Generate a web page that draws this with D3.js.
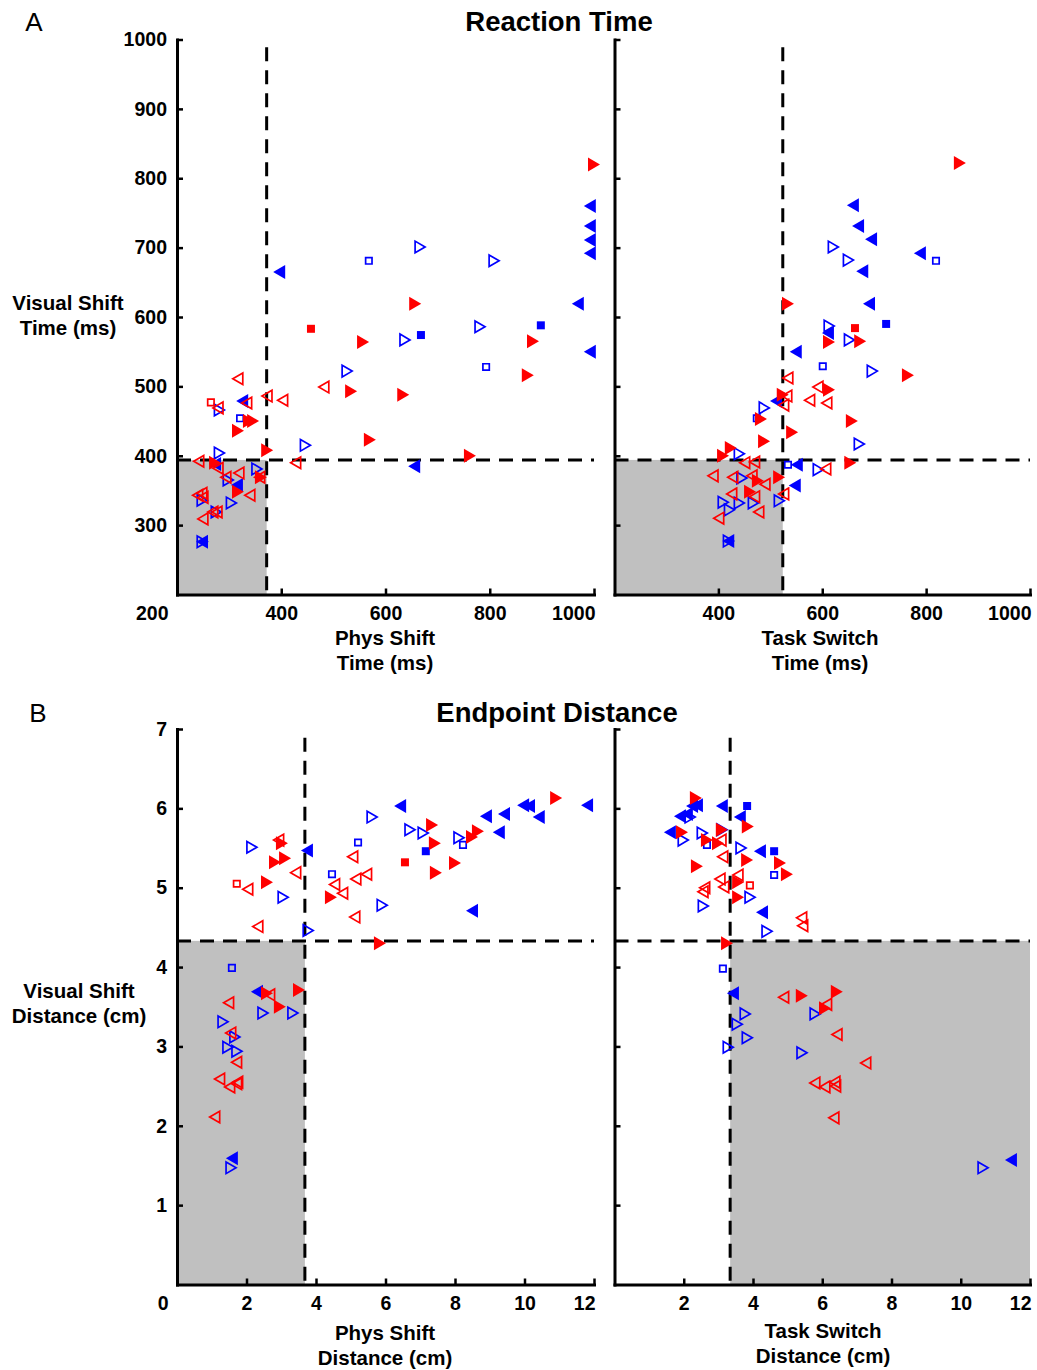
<!DOCTYPE html>
<html><head><meta charset="utf-8">
<script src="https://cdn.jsdelivr.net/npm/d3@7"></script>
<style>
body{margin:0;background:#fff}
text{font-family:"Liberation Sans",Arial,Helvetica,sans-serif}
</style>
</head><body>
<svg id="c" width="1037" height="1370"></svg>
<script>
// ---------- tick values ----------
const rtXTicksLeft = [200, 400, 600, 800, 1000];
const rtXTicksRight = [400, 600, 800, 1000];
const rtYTicks = [300, 400, 500, 600, 700, 800, 900, 1000];
const distXTicksLeft = [0, 2, 4, 6, 8, 10, 12];
const distXTicksRight = [2, 4, 6, 8, 10, 12];
const distYTicks = [1, 2, 3, 4, 5, 6, 7];

// ---------- thresholds ----------
const rtVisualThreshold = 394;
const rtPhysThreshold = 372;
const rtTaskThreshold = 524;
const distVisualThreshold = 4.33;
const distPhysThreshold = 3.68;
const distTaskThreshold = 3.34;

// ---------- Reaction time: Phys Shift (x) vs Visual Shift (y) ----------
const rtPhysRedTri = [[1000,820],[657,619],[557,564],[883,565],[534,493],[634,488],[873,516],[570,423],[762,400],[373,408],[338,450],[346,450],[317,436],[273,390],[361,369],[317,348]];
const rtPhysRedTriOpen = [[317,511],[334,476],[373,486],[403,480],[279,469],[482,499],[428,390],[242,392],[279,382],[319,375],[294,369],[340,343],[359,369],[240,343],[248,346],[250,340],[269,319],[277,319],[250,309]];
const rtPhysRedSq = [[457,583]];
const rtPhysRedSqOpen = [[265,477]];
const rtPhysBlueTri = [[992,760],[992,731],[992,711],[992,692],[396,665],[969,619],[992,550],[325,479],[273,388],[315,358],[655,385],[248,276]];
const rtPhysBlueTriOpen = [[666,701],[808,681],[781,586],[637,567],[526,522],[446,415],[281,466],[281,404],[353,381],[298,365],[248,336],[304,332],[275,319],[248,276]];
const rtPhysBlueSq = [[668,574],[898,588]];
const rtPhysBlueSqOpen = [[568,681],[793,528],[321,454]];

// ---------- Reaction time: Task Switch (x) vs Visual Shift (y) ----------
const rtTaskRedTri = [[865,822],[534,619],[613,564],[673,565],[765,516],[613,495],[524,488],[482,453],[657,450],[542,434],[488,421],[424,411],[409,400],[476,364],[517,369],[461,348],[654,390]];
const rtTaskRedTriOpen = [[534,512],[592,499],[532,486],[576,480],[609,476],[526,473],[451,390],[470,391],[607,381],[390,371],[428,369],[465,371],[490,359],[470,341],[426,345],[526,345],[478,319],[401,310]];
const rtTaskRedSq = [[663,584]];
const rtTaskRedSqOpen = [];
const rtTaskBlueTri = [[659,761],[669,731],[694,712],[788,692],[677,666],[690,619],[611,577],[549,550],[511,479],[551,387],[547,357],[419,277]];
const rtTaskBlueTriOpen = [[621,701],[650,682],[613,587],[652,567],[696,522],[488,469],[671,417],[440,403],[592,380],[445,368],[409,333],[440,332],[467,332],[517,335],[421,322],[419,277]];
const rtTaskBlueSq = [[723,590]];
const rtTaskBlueSqOpen = [[819,681],[601,529],[474,454],[534,387]];

// ---------- Endpoint distance: Phys Shift (x) vs Visual Shift (y) ----------
const distPhysRedTri = [[10.91,6.13],[7.34,5.79],[8.66,5.71],[8.49,5.64],[7.42,5.56],[8.00,5.31],[7.45,5.19],[4.43,4.88],[5.84,4.30],[3.02,5.56],[2.82,5.32],[3.11,5.37],[2.59,5.07],[2.59,3.67],[3.51,3.71],[2.96,3.50]];
const distPhysRedTriOpen = [[5.06,5.39],[5.46,5.17],[5.15,5.11],[4.54,5.04],[4.77,4.93],[5.12,4.63],[3.42,5.19],[2.93,5.60],[2.04,4.98],[2.33,4.51],[2.67,3.65],[1.49,3.55],[1.55,3.17],[1.72,2.80],[1.23,2.59],[1.75,2.55],[1.52,2.49],[1.72,2.53],[1.09,2.11]];
const distPhysRedSq = [[6.56,5.32]];
const distPhysRedSqOpen = [[1.72,5.05]];
const distPhysBlueTri = [[6.42,6.03],[11.80,6.04],[9.96,6.04],[10.13,6.03],[8.89,5.90],[9.41,5.93],[10.41,5.89],[9.26,5.70],[3.74,5.47],[8.49,4.71],[2.30,3.69],[1.58,1.59]];
const distPhysBlueTriOpen = [[5.61,5.89],[6.70,5.73],[7.08,5.69],[8.11,5.63],[5.90,4.78],[3.77,4.46],[2.15,5.51],[3.05,4.88],[2.47,3.42],[3.33,3.42],[1.32,3.31],[1.66,3.12],[1.46,2.99],[1.72,2.94],[1.55,1.47]];
const distPhysBlueSq = [[7.16,5.46]];
const distPhysBlueSqOpen = [[5.21,5.57],[4.46,5.17],[8.23,5.54],[1.58,3.99]];

// ---------- Endpoint distance: Task Switch (x) vs Visual Shift (y) ----------
const distTaskRedTri = [[2.35,6.13],[3.85,5.77],[1.95,5.70],[3.10,5.73],[2.67,5.60],[2.99,5.56],[3.83,5.35],[4.78,5.31],[2.38,5.27],[4.98,5.17],[3.57,5.07],[3.57,4.88],[3.25,4.30],[5.41,3.64],[6.42,3.69],[6.08,3.48]];
const distTaskRedTriOpen = [[3.13,5.39],[3.57,5.16],[3.05,5.11],[3.16,5.01],[2.61,5.00],[2.56,4.95],[5.41,4.62],[5.44,4.52],[4.89,3.62],[6.13,3.53],[6.43,3.15],[7.26,2.79],[5.79,2.54],[6.08,2.49],[6.37,2.55],[6.39,2.50],[6.34,2.10],[3.08,5.60]];
const distTaskRedSq = [];
const distTaskRedSqOpen = [[3.91,5.03]];
const distTaskBlueTri = [[2.38,6.04],[2.24,6.03],[1.89,5.90],[2.09,5.93],[3.10,6.03],[3.62,5.89],[1.60,5.70],[4.20,5.46],[4.26,4.69],[3.42,3.67],[11.45,1.57]];
const distTaskBlueTriOpen = [[2.18,5.89],[1.98,5.60],[2.53,5.69],[3.65,5.50],[3.91,4.88],[2.56,4.77],[4.40,4.45],[5.79,3.41],[3.77,3.41],[3.54,3.28],[3.83,3.11],[3.28,2.99],[5.41,2.92],[10.64,1.47],[3.10,5.73]];
const distTaskBlueSq = [[3.83,6.03],[4.61,5.46]];
const distTaskBlueSqOpen = [[2.67,5.54],[4.61,5.16],[3.13,3.98]];

// ---------- drawing ----------
const RED = "#ff0000", BLUE = "#0000ff", SHADE = "#c0c0c0";
const svg = d3.select("#c");

const glyph = {
  triRightFilled: "M-6,-7L6,0L-6,7Z",
  triLeftFilled: "M6,-7L-6,0L6,7Z",
  triRightOpen: "M-4.8,-5.8L5.2,0L-4.8,5.8Z",
  triLeftOpen: "M4.8,-5.8L-5.2,0L4.8,5.8Z",
  sqFilled: "M-4,-4H4V4H-4Z",
  sqOpen: "M-3.2,-3.2H3.2V3.2H-3.2Z"
};

function seriesList(s) {
  return [
    {data: s.blueSqOpen, g: glyph.sqOpen, c: BLUE, open: true},
    {data: s.blueSq, g: glyph.sqFilled, c: BLUE, open: false},
    {data: s.blueTriOpen, g: glyph.triRightOpen, c: BLUE, open: true},
    {data: s.blueTri, g: glyph.triLeftFilled, c: BLUE, open: false},
    {data: s.redSqOpen, g: glyph.sqOpen, c: RED, open: true},
    {data: s.redSq, g: glyph.sqFilled, c: RED, open: false},
    {data: s.redTri, g: glyph.triRightFilled, c: RED, open: false},
    {data: s.redTriOpen, g: glyph.triLeftOpen, c: RED, open: true}
  ];
}

function panel(cfg) {
  const x = d3.scaleLinear().domain(cfg.xDomain).range(cfg.xRange);
  const y = d3.scaleLinear().domain(cfg.yDomain).range(cfg.yRange);
  const g = svg.append("g");

  // shaded quadrant
  const sx0 = x(cfg.shadeX[0]), sx1 = x(cfg.shadeX[1]);
  const sy0 = y(cfg.shadeY[1]), sy1 = y(cfg.shadeY[0]);
  g.append("rect").attr("x", Math.min(sx0, sx1)).attr("y", sy0)
    .attr("width", Math.abs(sx1 - sx0)).attr("height", sy1 - sy0)
    .attr("fill", SHADE);

  // axes
  const xAxis = d3.axisBottom(x).tickValues(cfg.xTicks).tickSize(-6).tickSizeOuter(0).tickPadding(12).tickFormat(d3.format("d"));
  const gx = g.append("g").attr("transform", `translate(0,${cfg.yRange[0]})`).call(xAxis);
  const yAxis = d3.axisLeft(y).tickValues(cfg.yTicks).tickSize(-6).tickSizeOuter(0).tickPadding(10).tickFormat(cfg.showYLabels ? d3.format("d") : () => "");
  const gy = g.append("g").attr("transform", `translate(${cfg.xRange[0]},0)`).call(yAxis);

  [gx, gy].forEach(a => {
    a.select(".domain").attr("stroke", "#000").attr("stroke-width", 3).attr("stroke-linecap", "square");
    a.selectAll(".tick line").attr("stroke", "#000").attr("stroke-width", 2.5);
    a.selectAll(".tick text").attr("fill", "#000").attr("font-size", 19.5).attr("font-weight", "bold")
      .attr("font-family", "'Liberation Sans', Arial, sans-serif");
  });
  gx.selectAll(".tick").each(function(d) {
    const t = d3.select(this);
    if (d === cfg.xDomain[0]) { t.select("line").remove(); t.select("text").attr("text-anchor", "end").attr("x", -9); }
    if (d === cfg.xDomain[1]) { t.select("text").attr("text-anchor", "end").attr("x", 1); }
  });

  // dashed thresholds
  g.append("line").attr("x1", x(cfg.vline)).attr("x2", x(cfg.vline))
    .attr("y1", y(cfg.vlineTop)).attr("y2", y(cfg.yDomain[0]))
    .attr("stroke", "#000").attr("stroke-width", 3).attr("stroke-dasharray", "14,9");
  g.append("line").attr("x1", x(cfg.xDomain[0])).attr("x2", x(cfg.xDomain[1]))
    .attr("y1", y(cfg.hline)).attr("y2", y(cfg.hline))
    .attr("stroke", "#000").attr("stroke-width", 3).attr("stroke-dasharray", "14,9");

  // markers
  seriesList(cfg.series).forEach(s => {
    g.append("g").selectAll("path").data(s.data).join("path")
      .attr("d", s.g)
      .attr("transform", d => `translate(${x(d[0])},${y(d[1])})`)
      .attr("fill", s.open ? "none" : s.c)
      .attr("stroke", s.open ? s.c : "none")
      .attr("stroke-width", s.open ? 1.7 : 0);
  });
}

const LEFT = [177, 594], RIGHT = [614.5, 1030];
const TOPY = [594.5, 39.5], BOTY = [1284.5, 729];

panel({xDomain: [200, 1000], xRange: LEFT, yDomain: [200, 1000], yRange: TOPY,
  xTicks: rtXTicksLeft, yTicks: rtYTicks, showYLabels: true,
  shadeX: [200, rtPhysThreshold], shadeY: [200, rtVisualThreshold],
  vline: rtPhysThreshold, vlineTop: 989, hline: rtVisualThreshold,
  series: {redTri: rtPhysRedTri, redTriOpen: rtPhysRedTriOpen, redSq: rtPhysRedSq, redSqOpen: rtPhysRedSqOpen,
           blueTri: rtPhysBlueTri, blueTriOpen: rtPhysBlueTriOpen, blueSq: rtPhysBlueSq, blueSqOpen: rtPhysBlueSqOpen}});

panel({xDomain: [200, 1000], xRange: RIGHT, yDomain: [200, 1000], yRange: TOPY,
  xTicks: rtXTicksRight, yTicks: rtYTicks, showYLabels: false,
  shadeX: [200, rtTaskThreshold], shadeY: [200, rtVisualThreshold],
  vline: rtTaskThreshold, vlineTop: 989, hline: rtVisualThreshold,
  series: {redTri: rtTaskRedTri, redTriOpen: rtTaskRedTriOpen, redSq: rtTaskRedSq, redSqOpen: rtTaskRedSqOpen,
           blueTri: rtTaskBlueTri, blueTriOpen: rtTaskBlueTriOpen, blueSq: rtTaskBlueSq, blueSqOpen: rtTaskBlueSqOpen}});

panel({xDomain: [0, 12], xRange: LEFT, yDomain: [0, 7], yRange: BOTY,
  xTicks: distXTicksLeft, yTicks: distYTicks, showYLabels: true,
  shadeX: [0, distPhysThreshold], shadeY: [0, distVisualThreshold],
  vline: distPhysThreshold, vlineTop: 6.89, hline: distVisualThreshold,
  series: {redTri: distPhysRedTri, redTriOpen: distPhysRedTriOpen, redSq: distPhysRedSq, redSqOpen: distPhysRedSqOpen,
           blueTri: distPhysBlueTri, blueTriOpen: distPhysBlueTriOpen, blueSq: distPhysBlueSq, blueSqOpen: distPhysBlueSqOpen}});

panel({xDomain: [0, 12], xRange: RIGHT, yDomain: [0, 7], yRange: BOTY,
  xTicks: distXTicksRight, yTicks: distYTicks, showYLabels: false,
  shadeX: [distTaskThreshold, 12], shadeY: [0, distVisualThreshold],
  vline: distTaskThreshold, vlineTop: 6.89, hline: distVisualThreshold,
  series: {redTri: distTaskRedTri, redTriOpen: distTaskRedTriOpen, redSq: distTaskRedSq, redSqOpen: distTaskRedSqOpen,
           blueTri: distTaskBlueTri, blueTriOpen: distTaskBlueTriOpen, blueSq: distTaskBlueSq, blueSqOpen: distTaskBlueSqOpen}});

// ---------- texts ----------
function label(x, y, lines, opts) {
  const t = svg.append("text").attr("x", x).attr("y", y).attr("text-anchor", "middle")
    .attr("font-size", opts.size).attr("font-weight", opts.weight || "bold").attr("fill", "#000");
  lines.forEach((l, i) => t.append("tspan").attr("x", x).attr("dy", i === 0 ? 0 : opts.lh).text(l));
}
label(559, 31, ["Reaction Time"], {size: 27.5});
label(557, 722, ["Endpoint Distance"], {size: 27.5});
label(34, 31, ["A"], {size: 26, weight: "normal"});
label(38, 722, ["B"], {size: 26, weight: "normal"});
label(68, 310, ["Visual Shift", "Time (ms)"], {size: 20.5, lh: 25});
label(79, 998, ["Visual Shift", "Distance (cm)"], {size: 20.5, lh: 25});
label(385, 645, ["Phys Shift", "Time (ms)"], {size: 20.5, lh: 25});
label(820, 645, ["Task Switch", "Time (ms)"], {size: 20.5, lh: 25});
label(385, 1340, ["Phys Shift", "Distance (cm)"], {size: 20.5, lh: 25});
label(823, 1338, ["Task Switch", "Distance (cm)"], {size: 20.5, lh: 25});
</script>
</body></html>
